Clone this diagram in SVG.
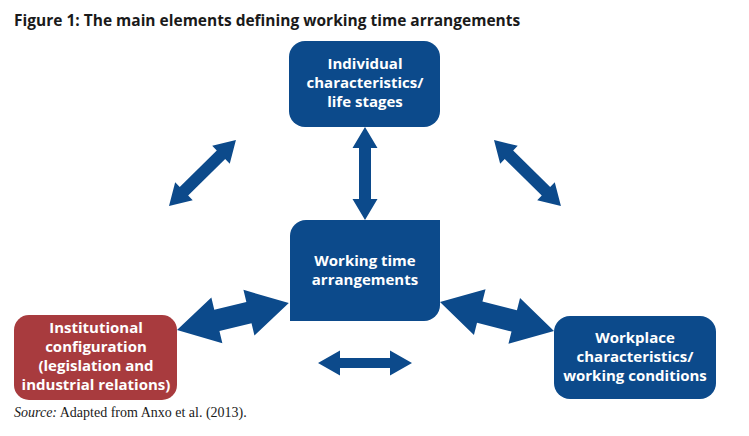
<svg xmlns="http://www.w3.org/2000/svg" width="749" height="436" viewBox="0 0 749 436">
<style>
.blue{fill:#0c4a8b}
.red{fill:#a83b3e}
.nt{font-family:"Open Sans","Liberation Sans",sans-serif;font-weight:bold;font-size:15px;fill:#ffffff;text-anchor:middle}
.title{font-family:"Open Sans","Liberation Sans",sans-serif;font-weight:bold;font-size:15.5px;fill:#1a1a1a}
.src{font-family:"Liberation Serif","Times New Roman",serif;font-size:14px;fill:#1a1a1a}
</style>
<rect width="749" height="436" fill="#ffffff"/>
<text class="title" x="14" y="26">Figure 1: The main elements defining working time arrangements</text>
<g id="connectors" class="blue">
<polygon transform="translate(365,127) rotate(90)" points="0,0 21,-12.5 21,-6 72,-6 72,-12.5 93,0 72,12.5 72,6 21,6 21,12.5"/>
<polygon transform="translate(169,206) rotate(-44.6)" points="0,0 21,-12.5 21,-6 73,-6 73,-12.5 94,0 73,12.5 73,6 21,6 21,12.5"/>
<polygon transform="translate(494,140) rotate(44.6)" points="0,0 21,-12.5 21,-6 73,-6 73,-12.5 94,0 73,12.5 73,6 21,6 21,12.5"/>
<polygon transform="translate(318,363)" points="0,0 22,-12.5 22,-5 72,-5 72,-12.5 94,0 72,12.5 72,5 22,5 22,12.5"/>
<polygon transform="translate(177,330) rotate(-13.55)" points="0,0 41,-23.5 41,-11 74,-11 74,-23.5 115,0 74,23.5 74,11 41,11 41,23.5"/>
<polygon transform="translate(440,302) rotate(14.27)" points="0,0 41,-23.5 41,-11 76.6,-11 76.6,-23.5 117.6,0 76.6,23.5 76.6,11 41,11 41,23.5"/>
</g>
<g id="individual">
<rect class="blue" x="289" y="41" width="151" height="86" rx="16"/>
<text class="nt" x="365" y="69">Individual</text>
<text class="nt" x="365" y="88">characteristics/</text>
<text class="nt" x="365" y="107">life stages</text>
</g>
<g id="working-time">
<path class="blue" d="M306,220 H440 V305 A16,16 0 0 1 424,321 H290 V236 A16,16 0 0 1 306,220 Z"/>
<text class="nt" x="365" y="266">Working time</text>
<text class="nt" x="365" y="285">arrangements</text>
</g>
<g id="institutional">
<rect class="red" x="14" y="315" width="163" height="85" rx="15"/>
<text class="nt" x="96" y="333">Institutional</text>
<text class="nt" x="96" y="352">configuration</text>
<text class="nt" x="96" y="371">(legislation and</text>
<text class="nt" x="96" y="390">industrial relations)</text>
</g>
<g id="workplace">
<rect class="blue" x="554" y="316" width="162" height="83" rx="16"/>
<text class="nt" x="635" y="343">Workplace</text>
<text class="nt" x="635" y="362">characteristics/</text>
<text class="nt" x="635" y="381">working conditions</text>
</g>
<text class="src" x="14" y="417"><tspan font-style="italic">Source:</tspan> Adapted from Anxo et al. (2013).</text>
</svg>
